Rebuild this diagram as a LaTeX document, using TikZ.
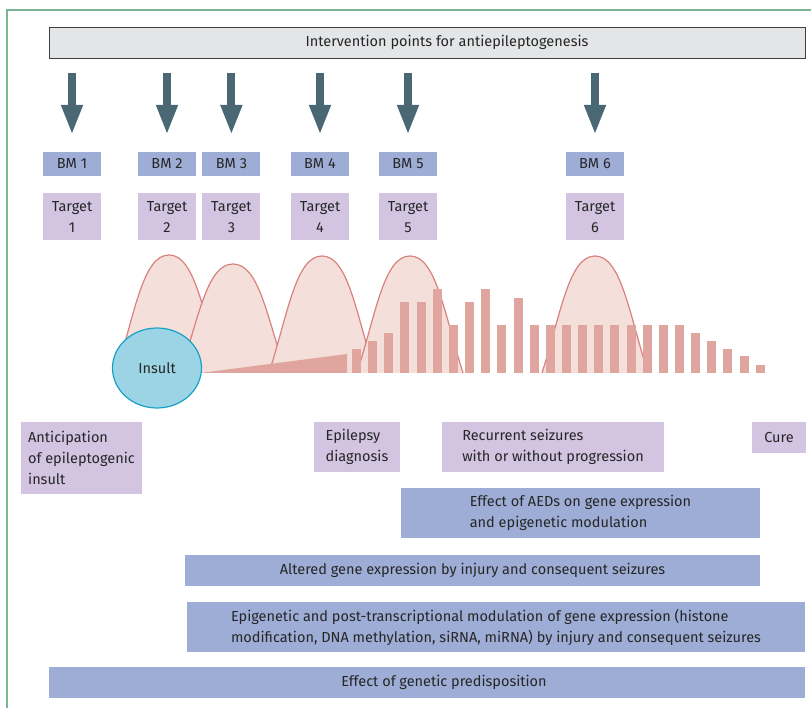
\documentclass[tikz,border=0pt]{standalone}
\usepackage{fontspec}
\setmainfont{Fira Sans}
\usepackage{tikz}
\usetikzlibrary{arrows.meta,positioning,shapes.geometric}

\definecolor{framegreen}{RGB}{122,182,148}
\definecolor{bargray}{RGB}{228,229,231}
\definecolor{slate}{RGB}{74,104,116}
\definecolor{bmblue}{RGB}{157,173,213}
\definecolor{lilac}{RGB}{211,196,226}
\definecolor{humpfill}{RGB}{245,223,219}
\definecolor{humpedge}{RGB}{216,130,126}
\definecolor{barpink}{RGB}{224,165,159}
\definecolor{insultfill}{RGB}{155,213,229}
\definecolor{insultedge}{RGB}{25,160,200}
\definecolor{txtgray}{RGB}{38,38,38}

\begin{document}
\begin{tikzpicture}[
                        x=1pt, y=-1pt,
                        >={Triangle[width=20pt,length=30pt]},
                        font=\fontsize{14.5}{21}\selectfont,
                        text=txtgray,
                        node distance=6pt
                    ]
                    \tikzstyle{topbar}=[fill=bargray,draw=black!75,line width=0.8pt,minimum width=756pt,minimum height=31pt,inner sep=0pt]
                    \tikzstyle{bmbox}=[fill=bmblue,minimum width=58pt,minimum height=24pt,inner sep=0pt]
                    \tikzstyle{tgbox}=[fill=lilac,minimum width=58pt,minimum height=47pt,inner sep=0pt,align=center]
                    \tikzstyle{phase}=[fill=lilac,inner sep=0pt,align=left]
                    \tikzstyle{band}=[fill=bmblue,inner sep=0pt,align=left]
                    \tikzstyle{bigarrow}=[->,draw=slate,line width=8pt]
                    \tikzstyle{insult}=[ellipse,fill=insultfill,draw=insultedge,line width=1.2pt,minimum width=89pt,minimum height=80pt]

                    \useasboundingbox (0,0) rectangle (811,708);
                    \draw[framegreen,line width=2pt] (7,708) -- (7,10) -- (811,10);

                    \node[topbar] (ip) at (427,42.5) {\hspace*{40pt}Intervention points for antiepileptogenesis};

                    \node[bmbox] (bm1) at (72,164)     {BM 1};
                    \node[bmbox] (bm2) at (167,164)    {BM 2};
                    \node[bmbox] (bm3) [right=of bm2]  {BM 3};
                    \node[bmbox] (bm4) at (320,164)    {BM 4};
                    \node[bmbox] (bm5) at (408,164)    {BM 5};
                    \node[bmbox] (bm6) at (595,164)    {BM 6};

                    \foreach \i in {1,...,6} {
                        \node[tgbox] (tg\i) [below=17pt of bm\i] {Target\\\i};
                        \draw[bigarrow] ([yshift=-15pt]ip.south -| bm\i) -- ([yshift=17pt]bm\i.north);
                    }

                    % waves of epileptogenesis
                    \foreach \px/\py in {169/255,233/264,322/256,410/256,595/256} {
                        \pgfmathsetmacro\ya{373-0.513*(373-\py)}
                        \fill[humpfill] (\px-53,373) .. controls (\px-34,\ya) and (\px-26,\py) .. (\px,\py)
                            .. controls (\px+26,\py) and (\px+34,\ya) .. (\px+53,373) -- cycle;
                        \draw[humpedge,line width=1.2pt] (\px-53,373) .. controls (\px-34,\ya) and (\px-26,\py) .. (\px,\py)
                            .. controls (\px+26,\py) and (\px+34,\ya) .. (\px+53,373);
                    }

                    % latent period and seizures
                    \fill[barpink] (200,373) -- (347,354) -- (347,373) -- cycle;
                    \foreach \t [count=\i from 0] in {349,341,333,302,302,289,325,302,289,325,298,325,325,
                                                      325,325,325,325,325,325,325,325,333,341,349,356,365} {
                        \pgfmathsetmacro\bx{352+16.15*\i}
                        \fill[barpink] (\bx,\t) rectangle (\bx+9,373);
                    }

                    \node[insult] (ins) at (157,368) {Insult};

                    \node[phase,minimum width=121pt,minimum height=72pt] (antic) at (81.5,458)
                        {Anticipation\\of epileptogenic\\insult};
                    \node[phase,minimum width=86pt,minimum height=50pt]  (diag) at (357,447)
                        {Epilepsy\\diagnosis};
                    \node[phase,minimum width=222pt,minimum height=50pt] (recur) at (553,447)
                        {Recurrent seizures\\with or without progression};
                    \node[phase,minimum width=54pt,minimum height=31pt]  (cure) at (779,437.5) {Cure};

                    \node[band,minimum width=359pt,minimum height=50pt] (aed) at (580.5,513)
                        {Effect of AEDs on gene expression\\and epigenetic modulation};
                    \node[band,minimum width=575pt,minimum height=31pt] (alt) at (472.5,570.5)
                        {Altered gene expression by injury and consequent seizures};
                    \node[band,minimum width=618pt,minimum height=50pt] (epi) at (496,627)
                        {Epigenetic and post-transcriptional modulation of gene expression (histone\\modification, DNA methylation, siRNA, miRNA) by injury and consequent seizures};
                    \node[band,minimum width=756pt,minimum height=31pt] (gen) at (427,682.5)
                        {\hspace*{34pt}Effect of genetic predisposition};
                \end{tikzpicture}
\end{document}
